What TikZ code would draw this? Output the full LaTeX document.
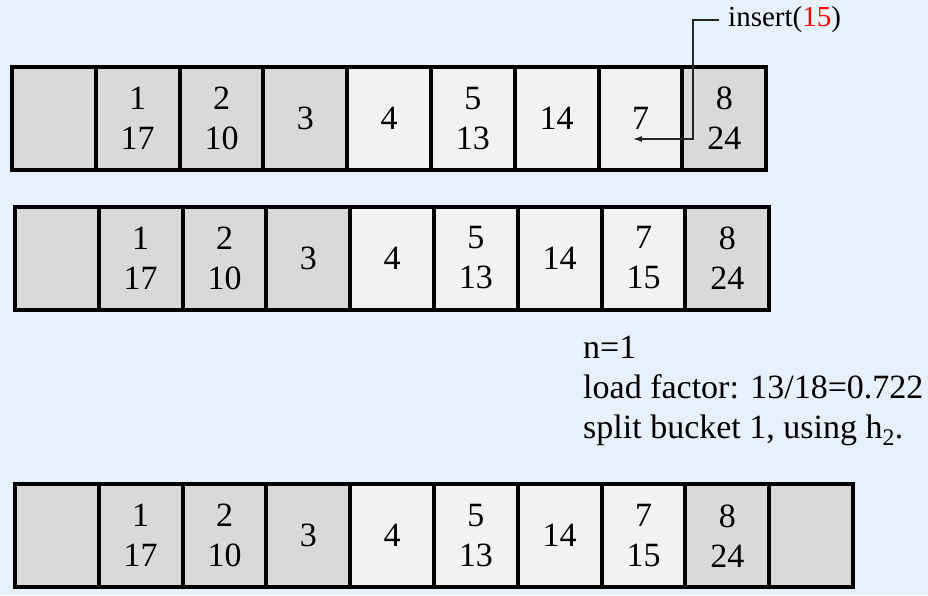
\documentclass[tikz,border=0pt]{standalone}
\usepackage{fontspec}
\setmainfont{Liberation Serif}
\usetikzlibrary{arrows,arrows.meta}
\definecolor{color1}{RGB}{217,217,217}
\definecolor{color2}{RGB}{242,242,242}
\definecolor{color3}{RGB}{231,241,251}

\begin{document}
\begin{tikzpicture}[x=1pt,y=-1pt]
% tabela hash antes e depois de insert(15), com divisao do bucket 1
  \tikzset{Bucket/.style = {draw = black, line width = 4pt,
                            minimum width = 83.8pt, minimum height = 103pt,
                            inner sep = 0pt, align = center,
                            font = \fontsize{34}{40}\selectfont},
           Dark/.style   = {Bucket, fill = color1},
           Light/.style  = {Bucket, fill = color2},
           Note/.style   = {anchor = base west, inner sep = 0pt,
                            font = \fontsize{34}{40}\selectfont}}

\fill[color3] (0,0) rectangle (928,595);
\useasboundingbox (0,0) rectangle (928,595);

%row 1
\node[Dark]  (a0) at (53.9,118.5) {};
\node[Dark]  (a1) at (137.7,118.5) {1\\17};
\node[Dark]  (a2) at (221.5,118.5) {2\\10};
\node[Dark]  (a3) at (305.3,118.5) {3};
\node[Light] (a4) at (389.1,118.5) {4};
\node[Light] (a5) at (472.9,118.5) {5\\13};
\node[Light] (a6) at (556.7,118.5) {14};
\node[Light] (a7) at (640.5,118.5) {7};
\node[Dark]  (a8) at (724.3,118.5) {8\\24};

%row 2
\node[Dark]  (b0) at (56.9,258) {};
\node[Dark]  (b1) at (140.7,258) {1\\17};
\node[Dark]  (b2) at (224.5,258) {2\\10};
\node[Dark]  (b3) at (308.3,258) {3};
\node[Light] (b4) at (392.1,258) {4};
\node[Light] (b5) at (475.9,258) {5\\13};
\node[Light] (b6) at (559.7,258) {14};
\node[Light] (b7) at (643.5,258) {7\\15};
\node[Dark]  (b8) at (727.3,258) {8\\24};

%row 3
\node[Dark]  (c0) at (56.9,535.7) {};
\node[Dark]  (c1) at (140.7,535.7) {1\\17};
\node[Dark]  (c2) at (224.5,535.7) {2\\10};
\node[Dark]  (c3) at (308.3,535.7) {3};
\node[Light] (c4) at (392.1,535.7) {4};
\node[Light] (c5) at (475.9,535.7) {5\\13};
\node[Light] (c6) at (559.7,535.7) {14};
\node[Light] (c7) at (643.5,535.7) {7\\15};
\node[Dark]  (c8) at (727.3,535.7) {8\\24};
\node[Dark]  (c9) at (811.1,535.7) {};

% insert
\node[anchor = west, inner sep = 0pt, font = \fontsize{29}{34}\selectfont]
  (ins) at (728,20) {insert(\textcolor{red}{15})};
\coordinate (tip) at (633,139);
\draw[-{Latex[length=9pt,width=6pt]}, line width = 1.2pt, black!85]
  ([xshift=-9pt]ins.west) -- ++(-26,0) |- (tip);

% notes
\node[Note] (n1) at (583,358) {n=1};
\node[Note] (n2) at (583,398) {load factor: 13/18=0.722};
\node[Note] (n3) at (583,438) {split bucket 1, using h\textsubscript{2}.};

\end{tikzpicture}
\end{document}
